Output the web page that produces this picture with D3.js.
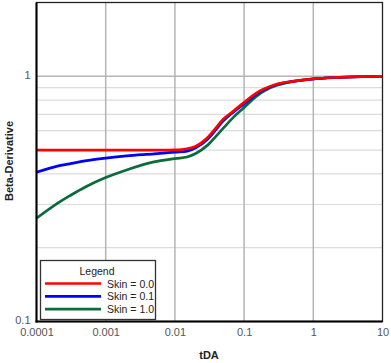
<!DOCTYPE html>
<html><head><meta charset="utf-8">
<script src="https://cdn.jsdelivr.net/npm/d3@7"></script>
<style>body{margin:0;background:#fff}svg{display:block;font-family:"Liberation Sans",Arial,sans-serif}</style>
</head><body><svg id="c" width="391" height="363"></svg>
<script>
const tDA = [1e-4, 2e-4, 3e-4, 5e-4, 1e-3, 2e-3, 5e-3, 0.01, 0.015, 0.02, 0.03, 0.04, 0.05, 0.07, 0.1, 0.15, 0.2, 0.3, 0.5, 1, 2, 5, 10];
const skin00 = [0.5, 0.5, 0.5, 0.5, 0.5, 0.5, 0.5, 0.501, 0.5067, 0.5187, 0.5648, 0.6203, 0.6687, 0.7220, 0.7833, 0.8540, 0.8917, 0.9302, 0.9541, 0.9768, 0.989, 0.997, 1.0];
const skin01 = [0.4064, 0.430, 0.4394, 0.4519, 0.4639, 0.4736, 0.4826, 0.4904, 0.4955, 0.5106, 0.5556, 0.6106, 0.6582, 0.7143, 0.7724, 0.8443, 0.8850, 0.9275, 0.9530, 0.9765, 0.989, 0.997, 1.0];
const skin10 = [0.2637, 0.3031, 0.3252, 0.3530, 0.3863, 0.4152, 0.4477, 0.4615, 0.4690, 0.4841, 0.5252, 0.5732, 0.6143, 0.6801, 0.7460, 0.8287, 0.8752, 0.9190, 0.9510, 0.9750, 0.988, 0.996, 0.999];
const seriesNames = ["Skin = 0.0", "Skin = 0.1", "Skin = 1.0"];
const seriesColors = ["#ff0000", "#0000ff", "#0b6b3a"];
const xTicks = [1e-4, 1e-3, 1e-2, 1e-1, 1, 10];
const xTickLabels = ["0.0001", "0.001", "0.01", "0.1", "1", "10"];
const yTicks = [0.1, 1];
const yTickLabels = ["0.1", "1"];
const yMinor = [0.2, 0.3, 0.4, 0.5, 0.6, 0.7, 0.8, 0.9];

const svg = d3.select("#c");
const L = 36.5, R = 382.5, T = 2.5, B = 321.5;
const x = d3.scaleLog().domain([1e-4, 10]).range([L, R]);
const y = d3.scaleLog().domain([0.1, 2]).range([B, T]);

const g = svg.append("g");
g.selectAll(".ym").data(yMinor).enter().append("line")
  .attr("x1", L).attr("x2", R).attr("y1", d => y(d)).attr("y2", d => y(d))
  .attr("stroke", "#dcdcdc").attr("stroke-width", 1.2);
g.selectAll(".xg").data(xTicks.slice(1, -1)).enter().append("line")
  .attr("x1", d => x(d)).attr("x2", d => x(d)).attr("y1", T).attr("y2", B)
  .attr("stroke", "#b4b4b4").attr("stroke-width", 1.5);
g.append("line").attr("x1", L).attr("x2", R).attr("y1", y(1)).attr("y2", y(1))
  .attr("stroke", "#b4b4b4").attr("stroke-width", 1.5);

const xAxis = d3.axisBottom(x).tickValues(xTicks).tickFormat((d, i) => xTickLabels[i]).tickSize(0).tickPadding(7);
const yAxis = d3.axisLeft(y).tickValues(yTicks).tickFormat((d, i) => yTickLabels[i]).tickSize(0).tickPadding(6);
const xa = svg.append("g").attr("transform", `translate(0,${B})`).call(xAxis);
const ya = svg.append("g").attr("transform", `translate(${L},0)`).call(yAxis);
[xa, ya].forEach(a => {
  a.select(".domain").remove();
  a.selectAll("text").attr("fill", "#555").attr("font-size", 11).attr("font-family", '"Liberation Sans",Arial,sans-serif');
});
ya.selectAll("text").attr("dy", "0.2em");

const line = d3.line().x(d => x(d[0])).y(d => y(d[1])).curve(d3.curveCatmullRom.alpha(0.5));
const allSeries = [skin00, skin01, skin10];
[2, 1, 0].forEach(i => {
  svg.append("path").datum(tDA.map((t, j) => [t, allSeries[i][j]]))
    .attr("d", line).attr("fill", "none").attr("stroke", seriesColors[i]).attr("stroke-width", 2.7);
});

svg.append("rect").attr("x", L).attr("y", T).attr("width", R - L).attr("height", B - T)
  .attr("fill", "none").attr("stroke", "#222").attr("stroke-width", 1.3);
svg.append("line").attr("x1", L).attr("x2", L).attr("y1", T).attr("y2", B + 1).attr("stroke", "#000").attr("stroke-width", 2);
svg.append("line").attr("x1", L - 1).attr("x2", R).attr("y1", B).attr("y2", B).attr("stroke", "#000").attr("stroke-width", 2);

svg.append("text").attr("x", 209).attr("y", 359).attr("text-anchor", "middle")
  .attr("font-size", 11).attr("font-weight", "bold").attr("fill", "#222").text("tDA");
svg.append("text").attr("transform", "translate(13,161) rotate(-90)").attr("text-anchor", "middle")
  .attr("font-size", 11).attr("font-weight", "bold").attr("fill", "#222").text("Beta-Derivative");

const lg = svg.append("g");
lg.append("rect").attr("x", 40.5).attr("y", 260.5).attr("width", 115).attr("height", 59)
  .attr("fill", "#fff").attr("stroke", "#333").attr("stroke-width", 1.3);
lg.append("text").attr("x", 97).attr("y", 275).attr("text-anchor", "middle").attr("font-size", 10.5).attr("fill", "#222").text("Legend");
seriesNames.forEach((n, i) => {
  const yy = 283.5 + i * 12.8;
  lg.append("line").attr("x1", 45).attr("x2", 101).attr("y1", yy).attr("y2", yy)
    .attr("stroke", seriesColors[i]).attr("stroke-width", 2.7);
  lg.append("text").attr("x", 107).attr("y", yy + 4).attr("font-size", 10.5).attr("fill", "#222").text(n);
});
</script></body></html>
